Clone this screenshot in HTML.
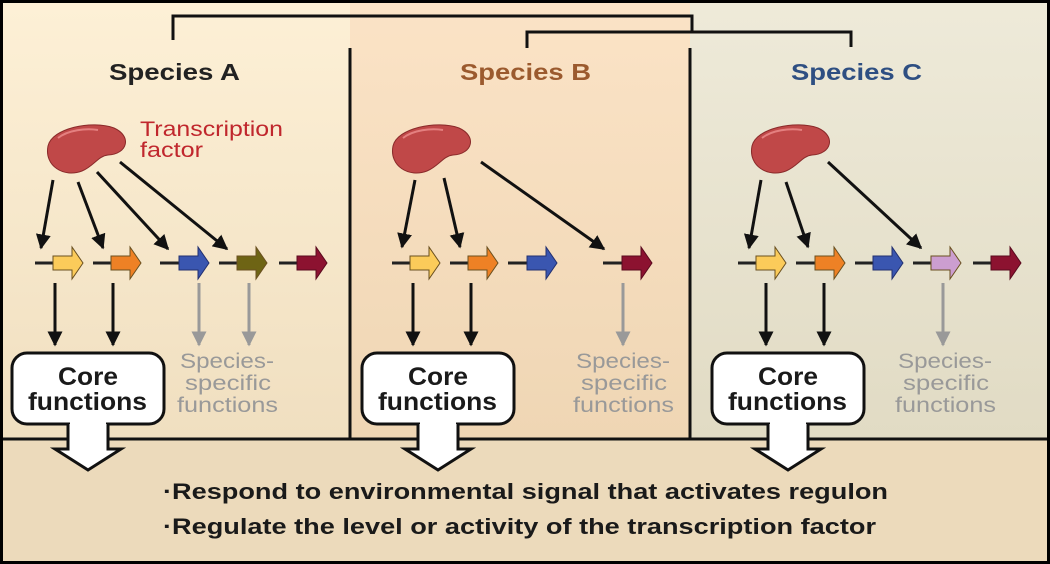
<!DOCTYPE html>
<html><head><meta charset="utf-8"><style>
html,body{margin:0;padding:0;background:#fff}
svg{display:block}
text{font-family:"Liberation Sans",Arial,sans-serif}
</style></head><body>
<svg width="1050" height="564" viewBox="0 0 1050 564" xmlns="http://www.w3.org/2000/svg">
<defs>
<linearGradient id="gA" x1="0" y1="0" x2="0" y2="1"><stop offset="0" stop-color="#fdf0d6"/><stop offset="1" stop-color="#f0dfc0"/></linearGradient>
<linearGradient id="gB" x1="0" y1="0" x2="0" y2="1"><stop offset="0" stop-color="#fbe3c6"/><stop offset="1" stop-color="#efd6b4"/></linearGradient>
<linearGradient id="gC" x1="0" y1="0" x2="0" y2="1"><stop offset="0" stop-color="#eeead9"/><stop offset="1" stop-color="#e1dbc4"/></linearGradient>
<marker id="ab" viewBox="0 0 10 10" refX="9" refY="5" markerWidth="5" markerHeight="5" orient="auto"><path d="M0,0L10,5L0,10z" fill="#111"/></marker>
<marker id="ag" viewBox="0 0 10 10" refX="9" refY="5" markerWidth="5" markerHeight="5" orient="auto"><path d="M0,0L10,5L0,10z" fill="#999"/></marker>
<g id="blob"><path d="M6,22 C10,4 50,-4 72,4 C90,12 86,30 66,31 C56,32 52,42 40,47 C22,54 2,42 6,22 Z" fill="#c04848" stroke="#8a2a2a" stroke-width="1"/><path d="M16,14 C26,6 44,4 56,6" stroke="#e48080" stroke-width="2" fill="none"/></g>
</defs>
<rect x="0" y="0" width="1050" height="564" fill="#000"/>
<rect x="3" y="3" width="347" height="436" fill="url(#gA)"/>
<rect x="350" y="3" width="340" height="436" fill="url(#gB)"/>
<rect x="690" y="3" width="357" height="436" fill="url(#gC)"/>
<rect x="3" y="439" width="1044" height="122" fill="#ecdabb"/>
<g stroke="#111" stroke-width="3" fill="none">
<path d="M173,40V16H692V31"/>
<path d="M527,48V32H851V47"/>
<path d="M350,48V439M690,48V439M3,439H1047"/>
</g>
<g font-size="23" font-weight="bold" lengthAdjust="spacingAndGlyphs">
<text x="109" y="80" textLength="131" lengthAdjust="spacingAndGlyphs" fill="#222">Species A</text>
<text x="460" y="80" textLength="131" lengthAdjust="spacingAndGlyphs" fill="#9b5a2e">Species B</text>
<text x="791" y="80" textLength="131" lengthAdjust="spacingAndGlyphs" fill="#2e4f82">Species C</text>
</g>
<text x="140" y="136" font-size="21" textLength="143" lengthAdjust="spacingAndGlyphs" fill="#c0272d">Transcription</text>
<text x="140" y="157" font-size="21" textLength="63" lengthAdjust="spacingAndGlyphs" fill="#c0272d">factor</text>
<use href="#blob" x="42" y="124"/>
<use href="#blob" x="387" y="124"/>
<use href="#blob" x="746" y="124"/>
<g stroke="#111" stroke-width="3" marker-end="url(#ab)">
<line x1="53" y1="180" x2="41" y2="248"/><line x1="78" y1="182" x2="103" y2="248"/><line x1="97" y1="172" x2="168" y2="249"/><line x1="120" y1="162" x2="227" y2="249"/>
<line x1="415" y1="180" x2="402" y2="247"/><line x1="444" y1="178" x2="460" y2="247"/><line x1="481" y1="162" x2="604" y2="249"/>
<line x1="761" y1="180" x2="749" y2="248"/><line x1="786" y1="182" x2="808" y2="247"/><line x1="828" y1="162" x2="921" y2="248"/>
<line x1="55" y1="283" x2="55" y2="345"/><line x1="113" y1="283" x2="113" y2="345"/>
<line x1="413" y1="283" x2="413" y2="345"/><line x1="471" y1="283" x2="471" y2="345"/>
<line x1="766" y1="283" x2="766" y2="345"/><line x1="824" y1="283" x2="824" y2="345"/>
</g>
<g stroke="#999" stroke-width="3" marker-end="url(#ag)">
<line x1="199" y1="283" x2="199" y2="345"/><line x1="249" y1="283" x2="249" y2="345"/>
<line x1="623" y1="283" x2="623" y2="345"/><line x1="943" y1="283" x2="943" y2="345"/>
</g>
<g stroke="#222" stroke-width="3">
<line x1="35" y1="263" x2="54" y2="263"/><line x1="93" y1="263" x2="112" y2="263"/><line x1="160" y1="263" x2="180" y2="263"/><line x1="219" y1="263" x2="238" y2="263"/><line x1="279" y1="263" x2="298" y2="263"/>
<line x1="392" y1="263" x2="411" y2="263"/><line x1="450" y1="263" x2="469" y2="263"/><line x1="508" y1="263" x2="528" y2="263"/><line x1="603" y1="263" x2="623" y2="263"/>
<line x1="738" y1="263" x2="757" y2="263"/><line x1="796" y1="263" x2="816" y2="263"/><line x1="855" y1="263" x2="874" y2="263"/><line x1="913" y1="263" x2="932" y2="263"/><line x1="973" y1="263" x2="992" y2="263"/>
</g>
<g stroke-width="1" stroke="#6a5020">
<path transform="translate(53,263)" d="M0,-7H19V-16L30,0L19,16V7H0Z" fill="#fbcb5a"/>
<path transform="translate(111,263)" d="M0,-7H19V-16L30,0L19,16V7H0Z" fill="#ee8125"/>
<path transform="translate(179,263)" d="M0,-7H19V-16L30,0L19,16V7H0Z" fill="#3a56b0" stroke="#223070"/>
<path transform="translate(237,263)" d="M0,-7H19V-16L30,0L19,16V7H0Z" fill="#6e6414"/>
<path transform="translate(297,263)" d="M0,-7H19V-16L30,0L19,16V7H0Z" fill="#8c1230" stroke="#5a0a1e"/>
<path transform="translate(410,263)" d="M0,-7H19V-16L30,0L19,16V7H0Z" fill="#fbcb5a"/>
<path transform="translate(468,263)" d="M0,-7H19V-16L30,0L19,16V7H0Z" fill="#ee8125"/>
<path transform="translate(527,263)" d="M0,-7H19V-16L30,0L19,16V7H0Z" fill="#3a56b0" stroke="#223070"/>
<path transform="translate(622,263)" d="M0,-7H19V-16L30,0L19,16V7H0Z" fill="#8c1230" stroke="#5a0a1e"/>
<path transform="translate(756,263)" d="M0,-7H19V-16L30,0L19,16V7H0Z" fill="#fbcb5a"/>
<path transform="translate(815,263)" d="M0,-7H19V-16L30,0L19,16V7H0Z" fill="#ee8125"/>
<path transform="translate(873,263)" d="M0,-7H19V-16L30,0L19,16V7H0Z" fill="#3a56b0" stroke="#223070"/>
<path transform="translate(931,263)" d="M0,-7H19V-16L30,0L19,16V7H0Z" fill="#cc9ed0"/>
<path transform="translate(991,263)" d="M0,-7H19V-16L30,0L19,16V7H0Z" fill="#8c1230" stroke="#5a0a1e"/>
</g>
<g fill="#fff" stroke="#111" stroke-width="3">
<rect x="12" y="353" width="152" height="71" rx="15"/>
<rect x="362" y="353" width="152" height="71" rx="15"/>
<rect x="712" y="353" width="152" height="71" rx="15"/>
<path d="M68,424V449H55L88,470L121,449H108V424" stroke-linejoin="miter"/>
<path d="M418,424V449H405L438,470L471,449H458V424"/>
<path d="M768,424V449H755L788,470L821,449H808V424"/>
</g>
<g fill="#fff"><rect x="70" y="420" width="36" height="22"/><rect x="420" y="420" width="36" height="22"/><rect x="770" y="420" width="36" height="22"/></g>
<g font-size="25" font-weight="bold" fill="#1a1a1a">
<text x="58" y="385" textLength="60" lengthAdjust="spacingAndGlyphs">Core</text><text x="28" y="410" textLength="119" lengthAdjust="spacingAndGlyphs">functions</text>
<text x="408" y="385" textLength="60" lengthAdjust="spacingAndGlyphs">Core</text><text x="378" y="410" textLength="119" lengthAdjust="spacingAndGlyphs">functions</text>
<text x="758" y="385" textLength="60" lengthAdjust="spacingAndGlyphs">Core</text><text x="728" y="410" textLength="119" lengthAdjust="spacingAndGlyphs">functions</text>
</g>
<g font-size="21" fill="#999">
<text x="180" y="368" textLength="94" lengthAdjust="spacingAndGlyphs">Species-</text><text x="185" y="390" textLength="86" lengthAdjust="spacingAndGlyphs">specific</text><text x="177" y="412" textLength="101" lengthAdjust="spacingAndGlyphs">functions</text>
<text x="576" y="368" textLength="94" lengthAdjust="spacingAndGlyphs">Species-</text><text x="581" y="390" textLength="86" lengthAdjust="spacingAndGlyphs">specific</text><text x="573" y="412" textLength="101" lengthAdjust="spacingAndGlyphs">functions</text>
<text x="898" y="368" textLength="94" lengthAdjust="spacingAndGlyphs">Species-</text><text x="903" y="390" textLength="86" lengthAdjust="spacingAndGlyphs">specific</text><text x="895" y="412" textLength="101" lengthAdjust="spacingAndGlyphs">functions</text>
</g>
<g font-size="22" font-weight="bold" fill="#1a1a1a">
<text x="163" y="499" textLength="725" lengthAdjust="spacingAndGlyphs">·Respond to environmental signal that activates regulon</text>
<text x="163" y="534" textLength="713" lengthAdjust="spacingAndGlyphs">·Regulate the level or activity of the transcription factor</text>
</g>
</svg>
</body></html>
